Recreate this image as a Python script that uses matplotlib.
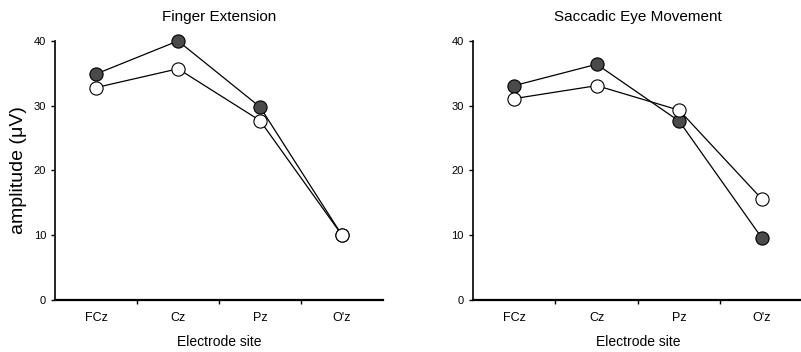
import matplotlib
matplotlib.use("Agg")
import matplotlib.pyplot as plt

plt.rcParams['font.family'] = ['Liberation Sans', 'DejaVu Sans']

sites = ["FCz", "Cz", "Pz", "O'z"]
titles = ["Finger Extension", "Saccadic Eye Movement"]
finger_filled = [34.9, 40.0, 29.8, 10.0]
finger_open = [32.8, 35.7, 27.7, 10.0]
saccade_filled = [33.1, 36.4, 27.6, 9.6]
saccade_open = [31.1, 33.1, 29.3, 15.6]

fig = plt.figure(figsize=(8.01, 3.52), dpi=100)
ax1 = fig.add_axes([0.0687, 0.1477, 0.4095, 0.736])
ax2 = fig.add_axes([0.5905, 0.1477, 0.412, 0.736])

xpos = [0.5, 1.5, 2.5, 3.5]
panels = [(ax1, finger_filled, finger_open), (ax2, saccade_filled, saccade_open)]
for i, (ax, filled, opn) in enumerate(panels):
    ax.plot(xpos, filled, color="black", lw=0.9, marker="o", ms=9.5,
            mfc="#4a4a4a", mec="black", mew=0.8, zorder=3)
    ax.plot(xpos, opn, color="black", lw=0.9, marker="o", ms=9.5,
            mfc="white", mec="black", mew=0.8, zorder=4)
    ax.set_xlim(0, 4)
    ax.set_ylim(0, 40)
    ax.set_yticks([0, 10, 20, 30, 40])
    ax.set_xticks([1, 2, 3])
    ax.set_xticklabels([])
    for x, s in zip(xpos, sites):
        ax.text(x, -2.8, s, ha="center", va="center", fontsize=9)
    ax.text(2, -6.5, "Electrode site", ha="center", va="center", fontsize=10)
    ax.spines["top"].set_visible(False)
    ax.spines["right"].set_visible(False)
    ax.spines["left"].set_linewidth(1.2)
    ax.spines["bottom"].set_linewidth(1.6)
    ax.tick_params(axis="both", direction="out", length=3, width=1, labelsize=8)
    ax.set_title(titles[i], fontsize=11, pad=14)
    ax.patch.set_alpha(0)
    for sp in ax.spines.values():
        sp.set_clip_on(False)
    for ln in ax.lines:
        ln.set_clip_on(False)

ax1.set_ylabel("amplitude (\u03bcV)", fontsize=14, labelpad=5)

fig.savefig("out.png", dpi=100)
